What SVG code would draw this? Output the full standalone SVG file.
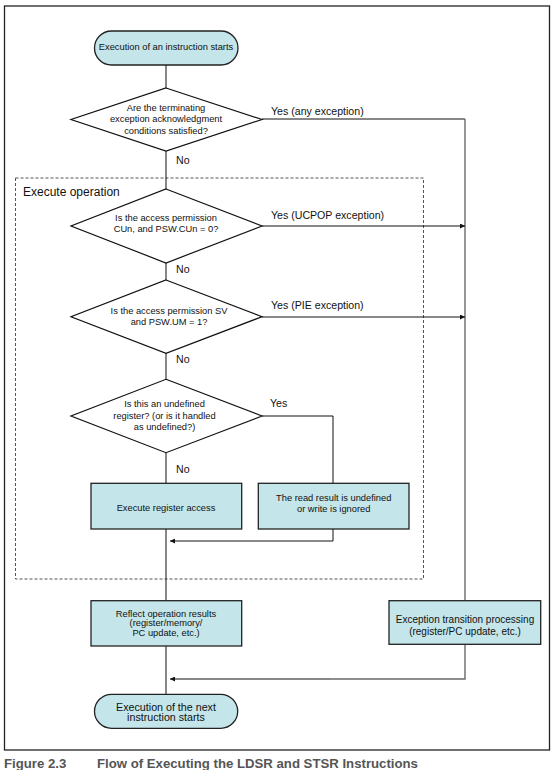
<svg xmlns="http://www.w3.org/2000/svg" width="554" height="770" viewBox="0 0 554 770">
<style>
  .t { font-family: "Liberation Sans", Arial, sans-serif; font-size: 9.3px; fill: #111; text-anchor: middle; }
  .lbl { font-family: "Liberation Sans", Arial, sans-serif; font-size: 10.6px; fill: #111; }
  .box { fill: #c4e5e9; stroke: #222; stroke-width: 1.3; }
  .dia { fill: #fff; stroke: #111; stroke-width: 1.2; }
  .ln { fill: none; stroke: #111; stroke-width: 1; }
  .gln { fill: none; stroke: #6a6a6a; stroke-width: 1.4; }
  .cap { font-family: "Liberation Sans", Arial, sans-serif; font-size: 13.2px; font-weight: bold; fill: #555; }
</style>
<defs>
  <marker id="ah" viewBox="0 0 10 10" refX="10" refY="5" markerWidth="9" markerHeight="5" markerUnits="userSpaceOnUse" orient="auto">
    <path d="M0,0 L10,5 L0,10 Z" fill="#111"/>
  </marker>
</defs>
<rect x="4.5" y="6" width="545" height="744" fill="#fff" stroke="#222" stroke-width="1.3"/>
<g id="group-execute-operation">
  <rect x="15.5" y="178" width="408" height="401" fill="none" stroke="#555" stroke-width="1" stroke-dasharray="3 2"/>
  <text class="lbl" x="23" y="196.2" style="font-size:12px">Execute operation</text>
</g>
<g id="connectors">
  <path class="ln" d="M166,65 V88 M166,151 V189 M166,263 V280 M166,353 V379 M166,453 V483 M166,529 V601 M166,646 V694"/>
  <path class="ln" d="M262,119 H465"/>
  <path class="gln" d="M465,119 V601"/>
  <path class="ln" d="M262,226 H465" marker-end="url(#ah)"/>
  <path class="ln" d="M262,317 H465" marker-end="url(#ah)"/>
  <path class="ln" d="M262,416 H333 V483"/>
  <path class="ln" d="M333,529 V541 H170" marker-end="url(#ah)"/>
  <path class="gln" d="M465,645 V679 H330"/>
  <path class="ln" d="M330,679 H170" marker-end="url(#ah)"/>
  <text class="lbl" x="271" y="114.7">Yes (any exception)</text>
  <text class="lbl" x="176" y="163.7">No</text>
  <text class="lbl" x="271" y="218.7">Yes (UCPOP exception)</text>
  <text class="lbl" x="176" y="272.7">No</text>
  <text class="lbl" x="271" y="309.4">Yes (PIE exception)</text>
  <text class="lbl" x="176" y="363">No</text>
  <text class="lbl" x="270" y="407">Yes</text>
  <text class="lbl" x="176" y="472.7">No</text>
</g>
<g id="start">
  <rect class="box" x="94.5" y="31" width="143.5" height="34" rx="17" ry="17"/>
  <text class="t" x="166" y="50.3">Execution of an instruction starts</text>
</g>
<g id="decision-terminating">
  <polygon class="dia" points="166,88 262,119.5 166,151 71,119.5"/>
  <text class="t" x="166" y="110.6">Are the terminating</text>
  <text class="t" x="166" y="122.3">exception acknowledgment</text>
  <text class="t" x="166" y="134">conditions satisfied?</text>
</g>
<g id="decision-cun">
  <polygon class="dia" points="166,189 262,226 166,263 71,226"/>
  <text class="t" x="166" y="221">Is the access permission</text>
  <text class="t" x="166" y="232">CUn, and PSW.CUn = 0?</text>
</g>
<g id="decision-sv">
  <polygon class="dia" points="166,280 262,316.7 166,353.3 71,316.7"/>
  <text class="t" x="169" y="314.3">Is the access permission SV</text>
  <text class="t" x="169" y="324.6">and PSW.UM = 1?</text>
</g>
<g id="decision-undefined">
  <polygon class="dia" points="166,379.3 262,416 166,452.7 71,416"/>
  <text class="t" x="164.5" y="407">Is this an undefined</text>
  <text class="t" x="164.5" y="419">register? (or is it handled</text>
  <text class="t" x="164.5" y="430">as undefined?)</text>
</g>
<g id="execute-register-access">
  <rect class="box" x="91" y="483.3" width="150.7" height="45.7"/>
  <text class="t" x="166" y="511">Execute register access</text>
</g>
<g id="read-undefined">
  <rect class="box" x="258.3" y="483.3" width="150.7" height="45.7"/>
  <text class="t" x="333.7" y="501">The read result is undefined</text>
  <text class="t" x="333.7" y="511.6">or write is ignored</text>
</g>
<g id="reflect-results">
  <rect class="box" x="91" y="600.7" width="150.7" height="45.3"/>
  <text class="t" x="166" y="616.6">Reflect operation results</text>
  <text class="t" x="166" y="626.3">(register/memory/</text>
  <text class="t" x="166" y="636.3">PC update, etc.)</text>
</g>
<g id="exception-transition">
  <rect class="box" x="389" y="600.7" width="151.7" height="43.6"/>
  <text class="t" x="465" y="622.8" style="font-size:10px">Exception transition processing</text>
  <text class="t" x="465" y="634.5" style="font-size:10px">(register/PC update, etc.)</text>
</g>
<g id="end">
  <rect class="box" x="94.5" y="694.3" width="143.2" height="34" rx="17" ry="17"/>
  <text class="t" x="166" y="710.7" style="font-size:10.7px">Execution of the next</text>
  <text class="t" x="166" y="721.4" style="font-size:10.7px">instruction starts</text>
</g>
<g id="caption">
  <text class="cap" x="4" y="768">Figure 2.3</text>
  <text class="cap" x="97" y="768">Flow of Executing the LDSR and STSR Instructions</text>
</g>
</svg>
